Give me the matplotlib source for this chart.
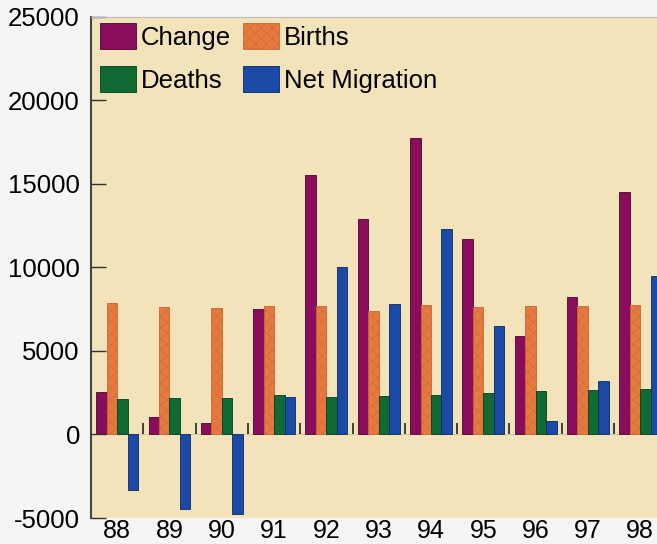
import numpy as np
import matplotlib
matplotlib.use('Agg')
import matplotlib.pyplot as plt

years = ['88', '89', '90', '91', '92', '93', '94', '95', '96', '97', '98']
change = [2540, 1040, 700, 7540, 15540, 12900, 17740, 11700, 5900, 8220, 14500]
births = [7900, 7620, 7580, 7680, 7720, 7400, 7780, 7640, 7700, 7700, 7780]
deaths = [2100, 2160, 2160, 2380, 2240, 2300, 2340, 2480, 2600, 2680, 2740]
net_migration = [-3300, -4440, -4740, 2260, 10040, 7800, 12320, 6520, 800, 3180, 9500]

series = [('Change', change, '#8a0c5c', '#4a0530'),
          ('Births', births, '#e5793f', '#c96633'),
          ('Deaths', deaths, '#0f6a34', '#063b1c'),
          ('Net Migration', net_migration, '#1a4aa6', '#0b2760')]

plt.rcParams['font.family'] = ['Liberation Sans', 'DejaVu Sans']
plt.rcParams['hatch.linewidth'] = 0.3
plt.rcParams['axes.unicode_minus'] = False

fig = plt.figure(figsize=(6.57, 5.44), dpi=100, facecolor='#f5f5f4')
ax = fig.add_axes([91/657, 1-518/544, 1-91/657, 501/544])
ax.set_facecolor('#f2e3bb')

x = np.arange(len(years))
w = 0.2
handles = {}
for k, (name, vals, col, edge) in enumerate(series):
    hatch = 'xxx' if name == 'Births' else None
    handles[name] = ax.bar(x + (k - 1.5) * w, vals, w, color=col, edgecolor=edge,
                           linewidth=0.6, hatch=hatch, label=name)

# small separators between year groups on the zero line
ax.vlines(x[:-1] + 0.5, 0, 660, color='#222222', linewidth=1.2)
ax.axhline(0, color='#cfc09a', linewidth=0.6, zorder=0)

ax.set_xlim(-0.5, 10.32)
ax.set_ylim(-5000, 25000)
ax.set_yticks(np.arange(-5000, 25001, 5000))
ax.set_xticks(x)
ax.set_xticklabels(years)
ax.tick_params(axis='y', direction='in', length=11, width=1, color='#333333',
               labelsize=18.5, pad=8)
ax.tick_params(axis='x', length=0, labelsize=18, pad=1)

ax.spines['right'].set_visible(False)
ax.spines['bottom'].set_visible(False)
ax.spines['top'].set_color('#bbbbbb')
ax.spines['top'].set_linewidth(0.8)
ax.spines['left'].set_color('#444444')
ax.spines['left'].set_linewidth(1.5)

order = ['Change', 'Deaths', 'Births', 'Net Migration']
ax.legend([handles[n] for n in order], order, loc='upper left',
          bbox_to_anchor=(0.016, 0.988), ncol=2, frameon=False, fontsize=18.5,
          handlelength=1.4, handleheight=1.17, handletextpad=0.2,
          columnspacing=0.45, labelspacing=0.65, borderpad=0, borderaxespad=0)

fig.savefig('out.png', dpi=100, facecolor=fig.get_facecolor())
